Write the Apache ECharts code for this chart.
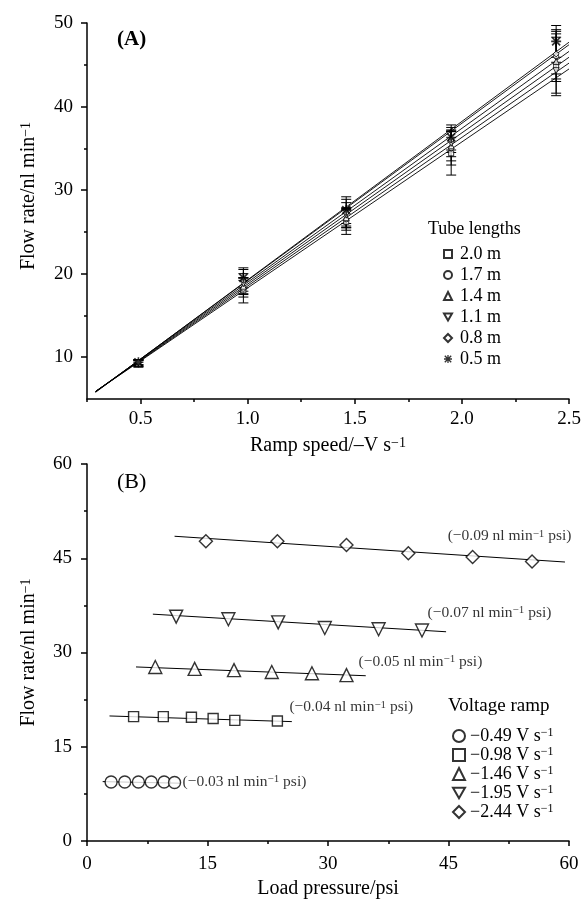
<!DOCTYPE html>
<html>
<head>
<meta charset="utf-8">
<script src="https://cdn.jsdelivr.net/npm/echarts@6/dist/echarts.min.js"></script>
<style>
  html, body { margin: 0; padding: 0; background: #fff; }
  #chart { width: 586px; height: 904px; }
</style>
</head>
<body>
<div id="chart"></div>
<script>
// ---- panel A data: flow rate vs ramp speed, per tube length ----
const rampSpeeds = [0.49, 0.98, 1.46, 1.95, 2.44]
const tubeNames = ["2.0 m", "1.7 m", "1.4 m", "1.1 m", "0.8 m", "0.5 m"]
const flowTube20 = [9.2, 18.0, 26.2, 34.4, 44.8]
const flowTube17 = [9.3, 18.2, 26.5, 35.0, 46.0]
const flowTube14 = [9.3, 18.5, 26.7, 35.3, 45.4]
const flowTube11 = [9.3, 18.8, 27.0, 35.6, 44.3]
const flowTube08 = [9.4, 19.2, 27.3, 36.0, 46.3]
const flowTube05 = [9.4, 19.5, 27.6, 36.3, 47.8]
const errTube20 = [0.4, 1.5, 1.5, 2.6, 3.5]
const errTube17 = [0.4, 1.0, 1.3, 2.0, 3.0]
const errTube14 = [0.4, 1.0, 1.2, 1.8, 3.8]
const errTube11 = [0.3, 1.2, 1.5, 1.6, 1.0]
const errTube08 = [0.3, 1.3, 1.6, 1.5, 2.4]
const errTube05 = [0.3, 1.2, 1.6, 1.5, 1.9]
// fitted lines: start / end of each line
const fitRamp = [0.29, 2.5]
const fitTube20 = [5.9, 44.5]
const fitTube17 = [5.9, 45.2]
const fitTube14 = [5.9, 45.9]
const fitTube11 = [5.9, 46.6]
const fitTube08 = [5.85, 47.4]
const fitTube05 = [5.8, 47.7]
const rampTicksMajor = [0.5, 1.0, 1.5, 2.0, 2.5]
const rampTicksMinor = [0.25, 0.75, 1.25, 1.75, 2.25]
const flowTicksA = [10, 20, 30, 40, 50]
const flowTicksMinorA = [15, 25, 35, 45]

// ---- panel B data: flow rate vs load pressure, per voltage ramp ----
const rampLabels = ["−0.49", "−0.98", "−1.46", "−1.95", "−2.44"]
const pressR049 = [3.0, 4.7, 6.4, 8.0, 9.6, 10.9]
const flowR049 = [9.4, 9.4, 9.4, 9.4, 9.4, 9.3]
const pressR098 = [5.8, 9.5, 13.0, 15.7, 18.4, 23.7]
const flowR098 = [19.8, 19.8, 19.7, 19.5, 19.2, 19.1]
const pressR146 = [8.5, 13.4, 18.3, 23.0, 28.0, 32.3]
const flowR146 = [27.7, 27.4, 27.2, 26.9, 26.7, 26.4]
const pressR195 = [11.1, 17.6, 23.8, 29.6, 36.3, 41.7]
const flowR195 = [35.7, 35.3, 34.8, 33.9, 33.7, 33.5]
const pressR244 = [14.8, 23.7, 32.3, 40.0, 48.0, 55.4]
const flowR244 = [47.7, 47.7, 47.1, 45.8, 45.2, 44.5]
const fitPressR049 = [1.95, 11.6], fitFlowR049 = [9.45, 9.2]
const fitPressR098 = [2.8, 25.5], fitFlowR098 = [19.9, 19.0]
const fitPressR146 = [6.1, 34.7], fitFlowR146 = [27.7, 26.3]
const fitPressR195 = [8.2, 44.7], fitFlowR195 = [36.1, 33.3]
const fitPressR244 = [10.9, 59.5], fitFlowR244 = [48.5, 44.4]
const slopeLabels = ["−0.09", "−0.07", "−0.05", "−0.04", "−0.03"]
const slopeAtPress = [44.9, 42.4, 33.8, 25.2, 11.9]
const slopeAtFlow = [48.5, 36.3, 28.5, 21.3, 9.4]

const FONT = "Liberation Serif"
const BLACK = "#000"
const STAR = "path://M4.2 0H5.8V10H4.2Z M0 4.2H10V5.8H0Z M1.6 0.4L9.6 8.4L8.4 9.6L0.4 1.6Z M8.4 0.4L9.6 1.6L1.6 9.6L0.4 8.4Z"
const DOWN_TRI = "path://M0 0L10 0L5 8.66Z"

const supRich = (size, lh) => ({
  t: { fontFamily: FONT, fontSize: size, color: BLACK, lineHeight: lh },
  sup: { fontFamily: FONT, fontSize: Math.round(size * 0.68), color: BLACK, verticalAlign: "top", lineHeight: Math.round(size * 0.68) }
})

const chart = echarts.init(document.getElementById("chart"))

const tubes = [
  { name: tubeNames[0], flow: flowTube20, err: errTube20, fit: fitTube20, symbol: "rect", size: 5 },
  { name: tubeNames[1], flow: flowTube17, err: errTube17, fit: fitTube17, symbol: "circle", size: 5 },
  { name: tubeNames[2], flow: flowTube14, err: errTube14, fit: fitTube14, symbol: "triangle", size: 6 },
  { name: tubeNames[3], flow: flowTube11, err: errTube11, fit: fitTube11, symbol: DOWN_TRI, size: 6 },
  { name: tubeNames[4], flow: flowTube08, err: errTube08, fit: fitTube08, symbol: "diamond", size: 6 },
  { name: tubeNames[5], flow: flowTube05, err: errTube05, fit: fitTube05, symbol: STAR, size: 10 }
]

const ramps = [
  { press: pressR049, flow: flowR049, fitP: fitPressR049, fitF: fitFlowR049, symbol: "circle", size: 12 },
  { press: pressR098, flow: flowR098, fitP: fitPressR098, fitF: fitFlowR098, symbol: "rect", size: 10 },
  { press: pressR146, flow: flowR146, fitP: fitPressR146, fitF: fitFlowR146, symbol: "triangle", size: 13 },
  { press: pressR195, flow: flowR195, fitP: fitPressR195, fitF: fitFlowR195, symbol: DOWN_TRI, size: 13 },
  { press: pressR244, flow: flowR244, fitP: fitPressR244, fitF: fitFlowR244, symbol: "diamond", size: 13 }
]
const rampNames = rampLabels.map((l) => l + " V s⁻¹")

// error bar drawn from value +/- err through the axis scale
function errorBar(params, api) {
  const x = api.value(0), y = api.value(1), e = api.value(2)
  const hi = api.coord([x, y + e])
  const lo = api.coord([x, y - e])
  const w = 5
  const style = { stroke: BLACK, lineWidth: 1 }
  return {
    type: "group",
    children: [
      { type: "line", shape: { x1: hi[0], y1: hi[1], x2: lo[0], y2: lo[1] }, style },
      { type: "line", shape: { x1: hi[0] - w, y1: hi[1], x2: hi[0] + w, y2: hi[1] }, style },
      { type: "line", shape: { x1: lo[0] - w, y1: lo[1], x2: lo[0] + w, y2: lo[1] }, style }
    ]
  }
}

const series = []
// panel A
tubes.forEach((t) => {
  series.push({
    type: "line", xAxisIndex: 0, yAxisIndex: 0, silent: true, symbol: "none",
    data: fitRamp.map((x, i) => [x, t.fit[i]]),
    lineStyle: { color: BLACK, width: 0.9 }, z: 2
  })
})
tubes.forEach((t) => {
  series.push({
    type: "custom", xAxisIndex: 0, yAxisIndex: 0, silent: true,
    renderItem: errorBar, encode: { x: 0, y: 1 },
    data: rampSpeeds.map((x, i) => [x, t.flow[i], t.err[i]]), z: 3
  })
})
tubes.forEach((t) => {
  const star = t.symbol === STAR
  series.push({
    name: t.name, type: "scatter", xAxisIndex: 0, yAxisIndex: 0,
    symbol: t.symbol, symbolSize: t.size,
    itemStyle: star ? { color: BLACK, borderWidth: 0 } : { color: "#fff", borderColor: BLACK, borderWidth: 1 },
    data: rampSpeeds.map((x, i) => [x, t.flow[i]]), z: 4
  })
})
// panel B
ramps.forEach((r) => {
  series.push({
    type: "line", xAxisIndex: 2, yAxisIndex: 2, silent: true, symbol: "none",
    data: r.fitP.map((p, i) => [p, r.fitF[i]]),
    lineStyle: { color: BLACK, width: 1 }, z: 2
  })
})
ramps.forEach((r, k) => {
  series.push({
    name: rampNames[k], type: "scatter", xAxisIndex: 2, yAxisIndex: 2,
    symbol: r.symbol, symbolSize: r.size,
    itemStyle: { color: "#fff", borderColor: BLACK, borderWidth: 1.4 },
    data: r.press.map((p, i) => [p, r.flow[i]]), z: 4
  })
})
series.push({
  type: "scatter", xAxisIndex: 2, yAxisIndex: 2, silent: true, symbolSize: 0,
  data: slopeAtPress.map((p, i) => [p, slopeAtFlow[i], slopeLabels[i]]),
  label: {
    show: true, position: "right", distance: 0,
    formatter: (p) => "{t|(" + p.value[2] + " nl min}{sup|−1}{t| psi)}",
    rich: supRich(15.5, 16)
  }
})

const axisLineStyle = { color: BLACK, width: 1.5 }
const tickFont = { fontFamily: FONT, fontSize: 19, color: BLACK }

const option = {
  animation: false,
  backgroundColor: "#fff",
  title: [
    { text: "(A)", left: 117, top: 29, padding: 0, textStyle: { fontFamily: FONT, fontSize: 21, fontWeight: "bold", color: BLACK } },
    { text: "(B)", left: 117, top: 471, padding: 0, textStyle: { fontFamily: FONT, fontSize: 22, fontWeight: "normal", color: BLACK } },
    { text: "Tube lengths", left: 428, top: 220, padding: 0, textStyle: { fontFamily: FONT, fontSize: 18, fontWeight: "normal", color: BLACK } },
    { text: "Voltage ramp", left: 448, top: 697, padding: 0, textStyle: { fontFamily: FONT, fontSize: 19, fontWeight: "normal", color: BLACK } }
  ],
  legend: [
    {
      data: tubeNames, orient: "vertical", left: 443, top: 244, padding: 0,
      itemWidth: 8, itemHeight: 8, itemGap: 1, selectedMode: false,
      textStyle: { fontFamily: FONT, fontSize: 18, color: BLACK, lineHeight: 20, padding: [0, 0, 0, 3] }
    },
    {
      data: rampNames, orient: "vertical", left: 452, top: 727, padding: 0,
      itemWidth: 12, itemHeight: 12, itemGap: 1, selectedMode: false,
      formatter: (name) => "{t|" + name.replace(" s⁻¹", " s") + "}{sup|−1}",
      textStyle: { rich: supRich(18, 18) }
    }
  ],
  grid: [
    { left: 87, right: 17, top: 23, height: 376 },
    { left: 87, right: 17, top: 464, height: 377 }
  ],
  xAxis: [
    {
      gridIndex: 0, type: "value", min: 0.25, max: 2.5, interval: 0.25, position: "bottom",
      axisLine: { onZero: false, lineStyle: axisLineStyle },
      axisTick: { length: 5, customValues: rampTicksMajor, lineStyle: { color: BLACK, width: 1.5 } },
      axisLabel: { customValues: rampTicksMajor, margin: 11, formatter: (v) => v.toFixed(1), ...tickFont },
      splitLine: { show: false },
      name: "{t|Ramp speed/–V s}{sup|−1}", nameLocation: "middle", nameGap: 37,
      nameTextStyle: { rich: supRich(20, 20) }
    },
    {
      gridIndex: 0, type: "value", min: 0.25, max: 2.5, interval: 0.25, position: "bottom", offset: 0,
      axisLine: { show: false },
      axisTick: { length: 3, customValues: rampTicksMinor, lineStyle: { color: BLACK, width: 1.5 } },
      axisLabel: { show: false }, splitLine: { show: false }
    },
    {
      gridIndex: 1, type: "value", min: 0, max: 60, interval: 15, position: "bottom",
      axisLine: { onZero: false, lineStyle: axisLineStyle },
      axisTick: { length: 5, lineStyle: { color: BLACK, width: 1.5 } },
      minorTick: { show: true, splitNumber: 2, length: 3, lineStyle: { color: BLACK, width: 1.5 } },
      axisLabel: { margin: 14, ...tickFont },
      splitLine: { show: false },
      name: "Load pressure/psi", nameLocation: "middle", nameGap: 38,
      nameTextStyle: { fontFamily: FONT, fontSize: 20, color: BLACK }
    }
  ],
  yAxis: [
    {
      gridIndex: 0, type: "value", min: 5, max: 50, interval: 5, position: "left",
      axisLine: { show: true, onZero: false, lineStyle: axisLineStyle },
      axisTick: { show: true, length: 6, customValues: flowTicksA, lineStyle: { color: BLACK, width: 1.5 } },
      axisLabel: { customValues: flowTicksA, margin: 14, ...tickFont },
      splitLine: { show: false },
      name: "{t|Flow rate/nl min}{sup|−1}", nameLocation: "middle", nameGap: 48,
      nameTextStyle: { rich: supRich(20, 20), padding: [0, 0, 0, 30] }
    },
    {
      gridIndex: 0, type: "value", min: 5, max: 50, interval: 5, position: "left", offset: 0,
      axisLine: { show: false },
      axisTick: { show: true, length: 3, customValues: flowTicksMinorA, lineStyle: { color: BLACK, width: 1.5 } },
      axisLabel: { show: false }, splitLine: { show: false }
    },
    {
      gridIndex: 1, type: "value", min: 0, max: 60, interval: 15, position: "left",
      axisLine: { show: true, onZero: false, lineStyle: axisLineStyle },
      axisTick: { show: true, length: 6, lineStyle: { color: BLACK, width: 1.5 } },
      minorTick: { show: true, splitNumber: 2, length: 3, lineStyle: { color: BLACK, width: 1.5 } },
      axisLabel: { margin: 15, ...tickFont },
      splitLine: { show: false },
      name: "{t|Flow rate/nl min}{sup|−1}", nameLocation: "middle", nameGap: 48,
      nameTextStyle: { rich: supRich(20, 20) }
    }
  ],
  series
}

chart.setOption(option)
</script>
</body>
</html>
